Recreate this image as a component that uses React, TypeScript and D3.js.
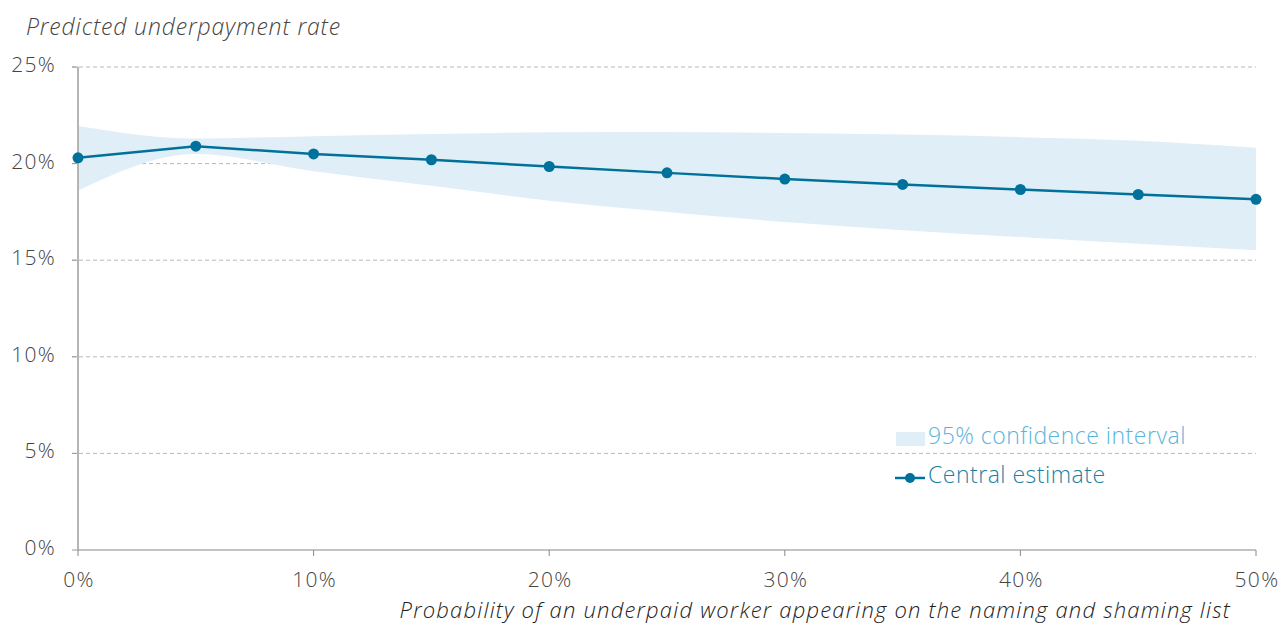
import React from "react";
import * as d3 from "d3";

const xValues = [0, 5, 10, 15, 20, 25, 30, 35, 40, 45, 50];
const central = [20.3, 20.9, 20.5, 20.2, 19.85, 19.52, 19.2, 18.92, 18.66, 18.4, 18.15];
const upper = [21.95, 21.3, 21.42, 21.53, 21.62, 21.63, 21.58, 21.5, 21.37, 21.18, 20.82];
const lower = [18.6, 20.5, 19.6, 18.85, 18.08, 17.5, 16.98, 16.55, 16.2, 15.85, 15.52];
const yTicks = [0, 5, 10, 15, 20, 25];
const xTicks = [0, 10, 20, 30, 40, 50];

export default function App() {
  const W = 1280, H = 624;
  const x = d3.scaleLinear().domain([0, 50]).range([78, 1256]);
  const y = d3.scaleLinear().domain([0, 25]).range([550, 67]);
  const font = "'Open Sans', Roboto, sans-serif";
  const area = d3.area<number>()
    .x((_, i) => x(xValues[i]))
    .y0((_, i) => y(lower[i]))
    .y1((_, i) => y(upper[i]))
    .curve(d3.curveMonotoneX);
  const line = d3.line<number>()
    .x((_, i) => x(xValues[i]))
    .y((d) => y(d));
  const lineColor = "#00719b";
  return (
    <svg width={W} height={H} style={{ position: "absolute", left: 0, top: 0 }} fontFamily={font}>
      <text x={26} y={35} fontSize={23} fontStyle="italic" fontWeight={300} fill="#444" letterSpacing={0.85}>Predicted underpayment rate</text>
      {yTicks.map((t) => (
        <g key={t}>
          {t > 0 && (
            <line x1={72} x2={1256} y1={y(t)} y2={y(t)} stroke="#b8b8b8" strokeDasharray="4,3" strokeWidth={1} />
          )}
          <line x1={72} x2={78} y1={y(t)} y2={y(t)} stroke="#999" />
          <text x={56} y={y(t) + 5} fontSize={21} fontWeight={300} fill="#444" textAnchor="end" letterSpacing={1.3}>{t}%</text>
        </g>
      ))}
      <path d={area(central) || ""} fill="#e0eff7" />
      <line x1={78} x2={78} y1={67} y2={550} stroke="#b5b5b5" strokeWidth={2} />
      <line x1={78} x2={1256} y1={550} y2={550} stroke="#888" strokeWidth={1.2} />
      {xTicks.map((t) => (
        <g key={t}>
          <line x1={x(t)} x2={x(t)} y1={550} y2={556} stroke="#888" />
          <text x={x(t) + 1} y={587} fontSize={21} fontWeight={300} fill="#444" textAnchor="middle" letterSpacing={1.3}>{t}%</text>
        </g>
      ))}
      <text x={1231} y={618} fontSize={22} fontStyle="italic" fontWeight={300} fill="#222" textAnchor="end" letterSpacing={1.2}>
        Probability of an underpaid worker appearing on the naming and shaming list
      </text>
      <path d={line(central) || ""} fill="none" stroke={lineColor} strokeWidth={2.5} />
      {central.map((v, i) => (
        <circle key={i} cx={x(xValues[i])} cy={y(v)} r={5.5} fill={lineColor} />
      ))}
      <rect x={896} y={432} width={29} height={14} fill="#e0eff7" />
      <text x={928} y={444} fontSize={23} fontWeight={300} fill="#5ab4dc" letterSpacing={0.5}>95% confidence interval</text>
      <line x1={895} x2={925} y1={478} y2={478} stroke={lineColor} strokeWidth={2.5} />
      <circle cx={910} cy={478} r={5} fill={lineColor} />
      <text x={928} y={483} fontSize={23} fontWeight={300} fill="#1a7fa5" letterSpacing={0.5}>Central estimate</text>
    </svg>
  );
}
